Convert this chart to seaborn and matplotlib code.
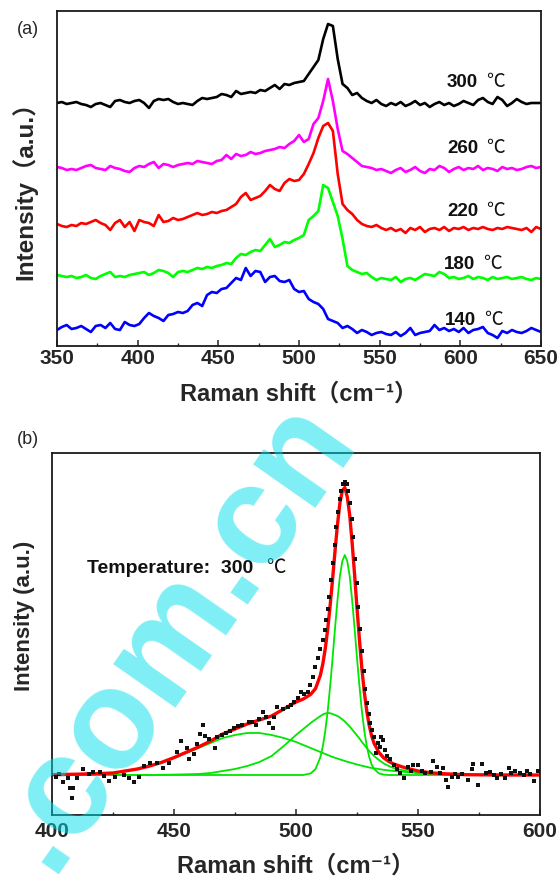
import numpy as np
import pandas as pd
import seaborn as sns
import matplotlib.pyplot as plt
from matplotlib.ticker import MultipleLocator
import matplotlib.transforms as mtransforms

# ---------------- (a) Raman spectra vs. deposition temperature ----------------
shift_a = np.arange(350, 651, 3)  # Raman shift, cm-1

int_300 = [266, 267, 265, 266, 267, 265, 264, 262, 265, 266, 264, 262, 268, 269, 267, 266, 268,
           269, 266, 261, 268, 270, 269, 270, 267, 265, 266, 265, 264, 268, 271, 270, 271, 272,
           275, 274, 272, 278, 275, 276, 277, 276, 279, 278, 281, 284, 280, 285, 284, 286, 287,
           288, 295, 302, 309, 330, 345, 343, 310, 285, 281, 274, 276, 271, 268, 266, 269,
           265, 263, 266, 264, 267, 263, 265, 268, 264, 266, 262, 265, 267, 264, 266, 263, 265,
           268, 266, 264, 269, 271, 267, 265, 272, 269, 263, 266, 270, 267, 265, 266, 266, 266]
int_260 = [202, 201, 199, 200, 199, 201, 203, 204, 201, 200, 199, 203, 201, 200, 198, 197, 201,
           203, 202, 205, 207, 201, 205, 204, 202, 204, 205, 206, 205, 208, 207, 206, 205, 208,
           209, 214, 210, 215, 213, 214, 217, 215, 216, 218, 219, 220, 222, 221, 225, 228, 234,
           227, 230, 245, 251, 268, 290, 268, 240, 218, 215, 211, 207, 203, 202, 201, 199,
           200, 198, 196, 199, 201, 197, 199, 202, 198, 196, 200, 199, 203, 201, 197, 200, 202,
           199, 201, 200, 203, 199, 201, 200, 198, 202, 200, 201, 199, 200, 202, 203, 201, 202]
int_220 = [145, 143, 142, 144, 143, 146, 145, 147, 149, 146, 144, 139, 146, 149, 142, 147, 138,
           149, 147, 146, 143, 154, 147, 148, 151, 149, 150, 152, 154, 156, 154, 155, 157, 156,
           158, 159, 162, 165, 172, 176, 169, 171, 173, 178, 184, 180, 178, 186, 190, 188, 189,
           195, 205, 216, 231, 243, 246, 238, 195, 165, 159, 155, 149, 145, 143, 142, 144,
           141, 139, 141, 138, 140, 136, 141, 139, 142, 137, 140, 141, 139, 142, 138, 141, 140,
           142, 139, 141, 140, 142, 140, 139, 141, 140, 142, 141, 140, 139, 141, 137, 142, 140]
int_180 = [94, 93, 92, 93, 91, 92, 94, 91, 90, 93, 95, 97, 92, 93, 92, 94, 95,
           96, 97, 94, 96, 99, 98, 96, 92, 97, 98, 97, 99, 101, 100, 102, 101, 103,
           104, 106, 105, 111, 115, 114, 117, 119, 118, 124, 130, 122, 124, 127, 126, 129, 131,
           134, 149, 153, 158, 184, 181, 167, 153, 130, 103, 99, 97, 95, 96, 92, 89,
           91, 90, 89, 92, 87, 90, 91, 89, 92, 95, 94, 93, 97, 95, 91, 92, 90,
           91, 93, 90, 92, 91, 89, 92, 90, 91, 92, 90, 91, 92, 90, 89, 91, 90]
int_140 = [39, 42, 44, 40, 41, 43, 40, 37, 43, 44, 41, 46, 40, 39, 47, 44, 43,
           45, 51, 56, 53, 51, 48, 54, 55, 57, 56, 58, 64, 66, 63, 74, 77, 76,
           80, 81, 86, 91, 89, 101, 93, 98, 97, 87, 92, 93, 88, 87, 89, 80, 77,
           78, 70, 67, 65, 60, 50, 48, 46, 41, 43, 40, 36, 39, 37, 34, 36,
           37, 35, 34, 37, 33, 36, 41, 34, 36, 37, 38, 44, 39, 41, 38, 40, 37,
           41, 36, 39, 40, 42, 36, 34, 31, 38, 36, 39, 37, 36, 38, 41, 39, 37]

temps = ["300", "260", "220", "180", "140"]
colors_a = ["#000000", "#ff00ff", "#ff0000", "#00ff00", "#0000ff"]
spectra = [int_300, int_260, int_220, int_180, int_140]

# ---------------- (b) peak fit of the 300 C spectrum ----------------
fit_x = [400, 410, 420, 425, 430, 435, 440, 445, 450, 455, 460, 465, 470, 475, 480, 485, 490,
         495, 500, 503, 506, 508, 510, 511, 512, 513, 514, 515, 516, 517, 518, 519, 520, 521,
         522, 523, 524, 525, 526, 527, 528, 529, 530, 531, 532, 534, 536, 538, 540, 545, 550,
         555, 560, 570, 580, 590, 600]
# amorphous band (~480), intermediate/grain-boundary band (~512), crystalline TO band (~520)
comp_amor = [0.3, 0.8, 1.5, 2, 4, 6, 9, 12.5, 17, 22, 27, 32, 37, 40, 42, 42, 40,
             37, 33, 30, 27, 25, 23, 22, 21, 20, 19, 18, 17.2, 16.4, 15.6, 14.8, 14, 13.3,
             12.6, 11.9, 11.2, 10.5, 9.9, 9.3, 8.7, 8.1, 7.5, 7.1, 6.7, 5.9, 5.2, 4.6, 4, 3, 2,
             1.3, 0.8, 0.3, 0.1, 0, 0]
comp_inter = [0, 0, 0, 0, 0, 0, 0, 0.2, 0.4, 0.7, 1, 2, 4, 6, 9, 13, 19,
              29, 40, 46, 52, 55.5, 59, 60.5, 61.5, 62, 61.8, 61, 60, 59, 57.5, 55.5, 53.5, 51,
              48.5, 45.5, 42.5, 39.5, 36.5, 33, 30, 27, 24, 21.5, 19, 15, 11.5, 9, 7, 4, 2,
              1, 0.5, 0, 0, 0, 0]
comp_cryst = [0, 0, 0, 0, 0, 0, 0, 0, 0, 0, 0, 0, 0, 0, 0, 0, 0,
              0, 0, 0, 1.6, 5.9, 17.9, 28.7, 44, 64, 89, 117, 147, 175, 199, 214, 220, 214,
              199, 175, 147, 117, 89, 64, 44, 29, 18, 10.5, 6, 1.6, 0.35, 0, 0, 0, 0,
              0, 0, 0, 0, 0, 0]
fit_sum = [0.3, 0.8, 1.5, 2, 4, 6, 9, 12.7, 17.4, 22.7, 28, 34, 41, 46, 51, 55, 59,
           66, 73, 76, 80.6, 86.4, 99.9, 111.2, 126.5, 146, 169.8, 196, 224.2, 250.4, 272.1,
           284.3, 287.5, 278.3, 260.1, 232.4, 200.7, 167, 135.4, 106.3, 82.7, 64.1, 49.5, 39.1,
           31.7, 22.5, 17.05, 13.6, 11, 7, 4, 2.3, 1.3, 0.3, 0.1, 0, 0]

meas_x = [401.5, 403, 404.7, 406.7, 407.4, 408.1, 408.8, 410.2, 412.9, 415, 417, 419.8, 421.5,
          423.2, 426, 429.4, 431.5, 433.5, 435.5, 437.6, 440.3, 443.1, 445.5, 448, 451.3, 452.7,
          455.2, 456.1, 458.2, 459.5, 460.5, 461.9, 462.6, 464.5, 466.8, 467.7, 469.5, 471.2,
          473, 474.6, 476.3, 478, 480.8, 482.1, 483.5, 485, 486.3, 487.6, 489, 490.4, 491.1,
          492.4, 494.5, 496.6, 498, 499.3, 500.7, 502, 503.4, 504.8, 505.8, 506.8, 507.9,
          508.9, 510, 511, 511.7, 512.3, 513, 513.7, 514.4, 515.1, 515.8, 516.5, 517.2, 517.9,
          518.6, 519.3, 520, 520.7, 521.4, 522.1, 522.8, 523.5, 524.2, 524.9, 525.6, 526.3,
          527, 527.7, 528.4, 529.1, 529.8, 530.5, 531.2, 531.9, 532.9, 533.6, 534.3, 535,
          535.7, 536.3, 537.4, 538.6, 540, 541.2, 542.5, 544.3, 545.7, 547, 548, 550, 551.5,
          553, 555.3, 556.2, 557.6, 559, 560.4, 561.3, 562.1, 563.8, 565, 566.3, 568, 570.4,
          572, 572.7, 574.5, 576.1, 577.8, 579.6, 581, 582.3, 584, 585.7, 587.1, 588.3, 589.6,
          591.9, 593.3, 594.7, 596, 597.4, 599]
meas_y = [-2, 1, -6.7, -3.3, -13.3, -23.3, -13.3, -3.3, 5.7, 1, 3.3, 3.3, -1,
          -6, -2, 0, -3, -6.7, -1.7, 9, 11.7, 11.7, 7, 12, 23.3, 34.3,
          27.3, 16, 20.7, 31, 41, 50, 39, 36, 26.7, 38.3, 40, 41.7,
          44, 46.7, 49, 50, 53.3, 53.3, 50, 56, 63.3, 58.3, 51.7, 46.7, 58.3,
          68.3, 66, 68.3, 70, 73.3, 77, 83.3, 81, 83.3, 90, 98.3, 108,
          116.7, 126, 135, 145, 155, 166, 178.3, 195, 212, 230, 248, 263, 276,
          284, 291, 293, 291, 284, 272, 256, 238, 216, 192, 168, 146,
          124, 104, 86, 72, 61, 52, 45, 38, 21.7, 31.7, 28, 38.3,
          35, 25, 19, 16, 10, 6, 1.7, -3.3, 8.3, 4, 10, 10, 4,
          2, 3.3, 14.3, 8.3, 2, 6.7, -5, -11.7, -1.7, 1, -2.3, 1, -5,
          5.7, 10.7, -10, 10.7, 2, 3.3, 0, -2.7, 1, -3.3, 6.7, 2, 4,
          2.3, 0, 4, 1, -5.7, 4]

# ---------------- style ----------------
sns.set_theme(style="ticks")
plt.rcParams["font.family"] = ["Liberation Sans", "DejaVu Sans", "Noto Sans CJK SC"]
plt.rcParams["font.weight"] = "bold"
plt.rcParams["axes.labelweight"] = "bold"
plt.rcParams["axes.linewidth"] = 1.3
plt.rcParams["axes.edgecolor"] = "#1a1a1a"

fig = plt.figure(figsize=(5.58, 8.83), dpi=100)
W, H = 558.0, 883.0
ax1 = fig.add_axes([57 / W, 1 - 346 / H, (541 - 57) / W, (346 - 11) / H])
ax2 = fig.add_axes([52 / W, 1 - 815 / H, (540 - 52) / W, (815 - 453) / H])

# ---- panel (a) ----
for vals, col in zip(spectra, colors_a):
    sns.lineplot(x=shift_a, y=vals, color=col, linewidth=1.9, ax=ax1)

label_y = [282, 216, 153, 100, 44]
label_x = [611, 611, 611, 609, 609.5]
deg_shift = mtransforms.ScaledTranslation(8 / 100, 0, fig.dpi_scale_trans)
for t, lx, ly in zip(temps, label_x, label_y):
    ax1.text(lx, ly, t, ha="right", va="baseline", fontsize=13.5, fontweight="bold",
             color="#111111")
    ax1.text(lx, ly, "℃", ha="left", va="baseline", fontsize=13.5, fontweight="normal",
             family="Noto Sans CJK SC", color="#111111",
             transform=ax1.transData + deg_shift)

ax1.set_xlim(350, 650)
ax1.set_ylim(23, 358)
ax1.xaxis.set_major_locator(MultipleLocator(50))
ax1.xaxis.set_minor_locator(MultipleLocator(25))
ax1.set_yticks([])
ax1.set_xlabel("Raman shift（cm⁻¹）", fontsize=17, labelpad=10)
ax1.set_ylabel("Intensity（a.u.）", fontsize=17.5)
ax1.yaxis.set_label_coords(-0.04, 0.48)

# ---- panel (b) ----
fit_df = pd.DataFrame({"shift": fit_x, "amor": comp_amor, "inter": comp_inter,
                       "cryst": comp_cryst, "fit": fit_sum})
for comp in ["amor", "inter", "cryst"]:
    sns.lineplot(data=fit_df, x="shift", y=comp, color="#00e600", linewidth=1.3, ax=ax2)
sns.lineplot(data=fit_df, x="shift", y="fit", color="#ff0000", linewidth=2.4, ax=ax2)
sns.scatterplot(x=meas_x, y=meas_y, color="#111111", s=6, marker="s", linewidth=0,
                ax=ax2, zorder=5)

ax2.text(414.3, 202, "Temperature:  300", ha="left", va="baseline", fontsize=14,
         fontweight="bold", color="#111111")
ax2.text(487.6, 202, "℃", ha="left", va="baseline", fontsize=14, fontweight="normal",
         family="Noto Sans CJK SC", color="#111111")

ax2.set_xlim(400, 600)
ax2.set_ylim(-40, 322)
ax2.xaxis.set_major_locator(MultipleLocator(50))
ax2.xaxis.set_minor_locator(MultipleLocator(25))
ax2.set_yticks([])
ax2.set_xlabel("Raman shift（cm⁻¹）", fontsize=17, labelpad=10)
ax2.set_ylabel("Intensity (a.u.)", fontsize=16)
ax2.yaxis.set_label_coords(-0.035, 0.55)

for ax, tpad in ((ax1, 2.5), (ax2, 5)):
    ax.tick_params(axis="x", which="major", direction="in", length=4.5, width=1.1,
                   labelsize=15, pad=tpad, top=False)
    ax.tick_params(axis="x", which="minor", direction="in", length=2.5, width=1.0,
                   top=False)
    for s in ax.spines.values():
        s.set_visible(True)
        s.set_linewidth(1.3)

fig.text(28 / W, 1 - 30 / H, "(a)", ha="center", va="center", fontsize=13,
         fontweight="normal")
fig.text(28 / W, 1 - 440 / H, "(b)", ha="center", va="center", fontsize=13,
         fontweight="normal")

# site watermark
fig.text(203 / W, 1 - 655 / H, ".com.cn", rotation=55, rotation_mode="anchor",
         ha="center", va="baseline", fontsize=102, fontweight="bold",
         family="Liberation Sans", color=(0.0, 0.88, 0.92), alpha=0.5, zorder=20)

fig.savefig("out.png", dpi=100)
